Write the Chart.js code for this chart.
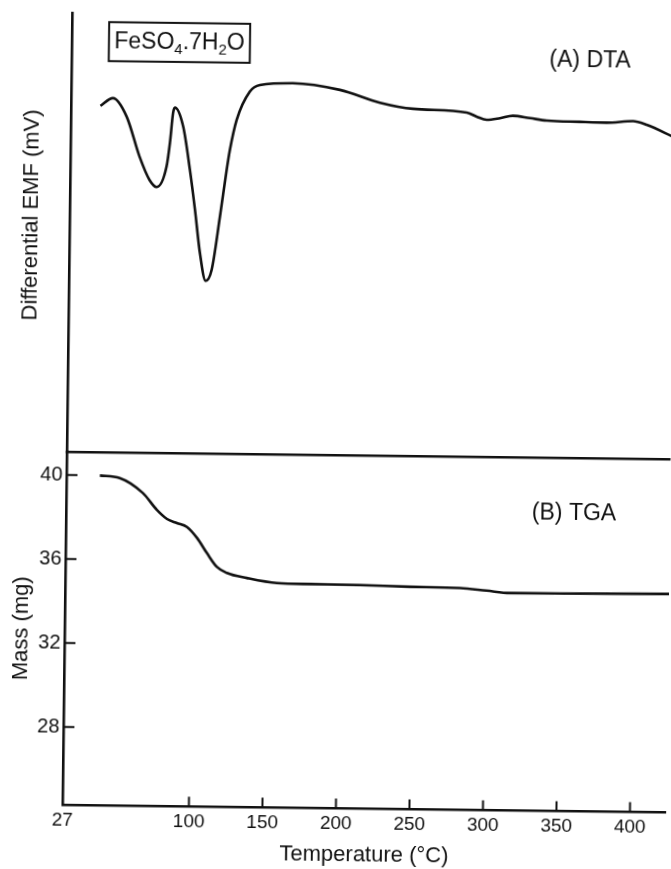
<!DOCTYPE html>
<html lang="en">
  <head>
    <meta charset="utf-8" />
    <title>FeSO4.7H2O DTA / TGA</title>
    <style>
      * {
        margin: 0;
        padding: 0;
      }
      body {
        background: #fff;
        overflow: hidden;
      }
      .sheet {
        position: relative;
        width: 671px;
        height: 869px;
        transform: rotate(0.7deg);
      }
      .sheet canvas {
        position: absolute;
        left: 0;
        top: 0;
      }
    </style>
  </head>
  <body>
    <div class="sheet">
      <canvas id="dtaChart" width="671" height="869"></canvas>
      <canvas id="tgaChart" width="671" height="869"></canvas>
    </div>

    <script src="https://cdn.jsdelivr.net/npm/chart.js"></script>
    <script>
      // data block
      // DTA trace: temperature (°C) vs differential EMF (arbitrary units, 0-100 over the panel)
      const dtaTemp = [
        34, 42.5, 52, 61, 68, 73, 79.5, 81.6, 83.5, 84.7, 90.5, 95.4, 99.2,
        102.9, 107, 111, 116.2, 120.4, 122.4, 126.8, 135.6, 142.3, 164.7,
        196.8, 224.1, 246.6, 283.2, 290, 296.8, 305.8, 314.6, 326.3, 337.6,
        360.2, 378.5, 396.3, 405.6, 424.8,
      ];
      const dtaEmf = [
        78.9, 80.7, 76.5, 67.5, 62.2, 60.6, 65.3, 70.7, 77.5, 78.7, 74.4, 64.6,
        55.5, 45.7, 39.4, 41.9, 54.0, 64.7, 69.2, 76.1, 82.6, 84.1, 84.6, 83.2,
        80.4, 79.1, 78.4, 77.5, 76.8, 77.2, 77.8, 77.3, 76.8, 76.6, 76.5, 76.9,
        76.1, 73.3,
      ];

      // TGA trace: temperature (°C) vs mass (mg)
      const tgaTemp = [
        36.7, 50.3, 66.1, 75.8, 82.7, 89.5, 96.3, 103.3, 110.1, 117.1, 123.9,
        137.6, 158, 180.5, 214.5, 248.6, 282.5, 300.6, 316.6, 350.6, 424.8,
      ];
      const tgaMass = [
        40.0, 39.89, 39.19, 38.39, 37.97, 37.78, 37.6, 37.08, 36.37, 35.71,
        35.43, 35.2, 34.98, 34.95, 34.93, 34.88, 34.85, 34.74, 34.64, 34.65,
        34.69,
      ];

      // tick labels
      const tempTicks = [100, 150, 200, 250, 300, 350, 400];
      const tempOriginLabel = "27";
      const massTicks = [28, 32, 36, 40];

      // axis ranges
      const X_MIN = 14;
      const X_MAX = 424.8;
      const MASS_MIN = 24.28;
      const MASS_MAX = 41.08;

      // page layout (px)
      const PLOT_LEFT = 67;
      const DTA_TOP = 16;
      const SPLIT_Y = 455.7;
      const AXIS_Y = 808.4;
      const PAGE_H = 869;

      const INK = "#111";
      const FONT = "'Liberation Sans', Arial, Helvetica, sans-serif";

      Chart.defaults.font.family = FONT;
      Chart.defaults.color = INK;

      const toPoints = (xs, ys) => xs.map((x, i) => ({ x: x, y: ys[i] }));

      const lineStyle = {
        borderColor: INK,
        borderWidth: 2.6,
        pointRadius: 0,
        fill: false,
        cubicInterpolationMode: "monotone",
      };

      // formula box, panel caption and EMF axis title for the DTA panel
      const dtaLabels = {
        id: "dtaLabels",
        afterDraw(chart) {
          const { ctx } = chart;
          ctx.save();
          ctx.strokeStyle = INK;
          ctx.fillStyle = INK;
          ctx.lineWidth = 2;
          ctx.strokeRect(104.2, 24.9, 141, 39);

          const parts = [
            ["FeSO", 23, 0],
            ["4", 15, 5],
            [".7H", 23, 0],
            ["2", 15, 5],
            ["O", 23, 0],
          ];
          let w = 0;
          parts.forEach(([t, size]) => {
            ctx.font = `${size}px ${FONT}`;
            w += ctx.measureText(t).width;
          });
          let x = 174.7 - w / 2;
          ctx.textBaseline = "alphabetic";
          parts.forEach(([t, size, dy]) => {
            ctx.font = `${size}px ${FONT}`;
            ctx.fillText(t, x, 51 + dy);
            x += ctx.measureText(t).width;
          });

          ctx.font = `23px ${FONT}`;
          ctx.textAlign = "center";
          ctx.textBaseline = "middle";
          ctx.fillText("(A) DTA", 585.5, 58);

          // y title sits a little above the panel centre
          ctx.translate(29.3, 218.7);
          ctx.rotate(-Math.PI / 2);
          ctx.font = `22px ${FONT}`;
          ctx.fillText("Differential EMF (mV)", 0, 0);
          ctx.restore();
        },
      };

      // inward tick marks + panel caption for the TGA panel
      const tgaMarks = {
        id: "tgaMarks",
        afterDraw(chart) {
          const {
            ctx,
            chartArea,
            scales: { x, y },
          } = chart;
          ctx.save();
          ctx.strokeStyle = INK;
          ctx.lineWidth = 2;
          ctx.beginPath();
          tempTicks.forEach((v) => {
            const px = x.getPixelForValue(v);
            ctx.moveTo(px, chartArea.bottom);
            ctx.lineTo(px, chartArea.bottom - 10);
          });
          massTicks.forEach((v) => {
            const py = y.getPixelForValue(v);
            ctx.moveTo(chartArea.left, py);
            ctx.lineTo(chartArea.left + 11, py);
          });
          ctx.stroke();

          ctx.fillStyle = INK;
          ctx.font = `23px ${FONT}`;
          ctx.textAlign = "center";
          ctx.textBaseline = "middle";
          ctx.fillText("(B) TGA", 575, 511);
          ctx.restore();
        },
      };

      const border = { display: true, color: INK, width: 2.6 };
      const noGrid = { display: false, drawTicks: false };

      // DTA config block
      const dtaConfig = {
        type: "line",
        data: {
          datasets: [{ data: toPoints(dtaTemp, dtaEmf), ...lineStyle }],
        },
        options: {
          responsive: false,
          animation: false,
          layout: {
            padding: { top: DTA_TOP, bottom: PAGE_H - SPLIT_Y, left: 0, right: 0 },
          },
          plugins: { legend: { display: false }, tooltip: { enabled: false } },
          scales: {
            x: {
              type: "linear",
              min: X_MIN,
              max: X_MAX,
              grid: noGrid,
              border: border,
              ticks: { display: false },
              afterFit: (s) => {
                s.height = 0;
              },
            },
            y: {
              min: 0,
              max: 100,
              grid: noGrid,
              border: border,
              ticks: { display: false },
              afterFit: (s) => {
                s.width = PLOT_LEFT;
              },
            },
          },
        },
        plugins: [dtaLabels],
      };

      // TGA config block
      const tgaConfig = {
        type: "line",
        data: {
          datasets: [{ data: toPoints(tgaTemp, tgaMass), ...lineStyle }],
        },
        options: {
          responsive: false,
          animation: false,
          layout: { padding: { top: SPLIT_Y, bottom: 0, left: 0, right: 0 } },
          plugins: { legend: { display: false }, tooltip: { enabled: false } },
          scales: {
            x: {
              type: "linear",
              min: X_MIN,
              max: X_MAX,
              grid: noGrid,
              border: border,
              afterBuildTicks: (s) => {
                s.ticks = [X_MIN, ...tempTicks].map((v) => ({ value: v }));
              },
              ticks: {
                autoSkip: false,
                maxRotation: 0,
                padding: 4,
                font: { size: 19 },
                callback: (v) => (v === X_MIN ? tempOriginLabel : String(v)),
              },
              title: {
                display: true,
                text: "Temperature (°C)",
                font: { size: 22, lineHeight: 1.2 },
                padding: { top: 0, bottom: 1 },
              },
              afterFit: (s) => {
                s.height = PAGE_H - AXIS_Y;
              },
            },
            y: {
              min: MASS_MIN,
              max: MASS_MAX,
              grid: noGrid,
              border: border,
              afterBuildTicks: (s) => {
                s.ticks = massTicks.map((v) => ({ value: v }));
              },
              ticks: {
                padding: 4,
                font: { size: 20 },
              },
              title: {
                display: true,
                text: "Mass (mg)",
                font: { size: 22, lineHeight: 1.2 },
                padding: { top: 11, bottom: 0 },
              },
              afterFit: (s) => {
                s.width = PLOT_LEFT;
              },
            },
          },
        },
        plugins: [tgaMarks],
      };

      // init render block
      const dtaChart = new Chart(document.getElementById("dtaChart"), dtaConfig);
      const tgaChart = new Chart(document.getElementById("tgaChart"), tgaConfig);
    </script>
  </body>
</html>
